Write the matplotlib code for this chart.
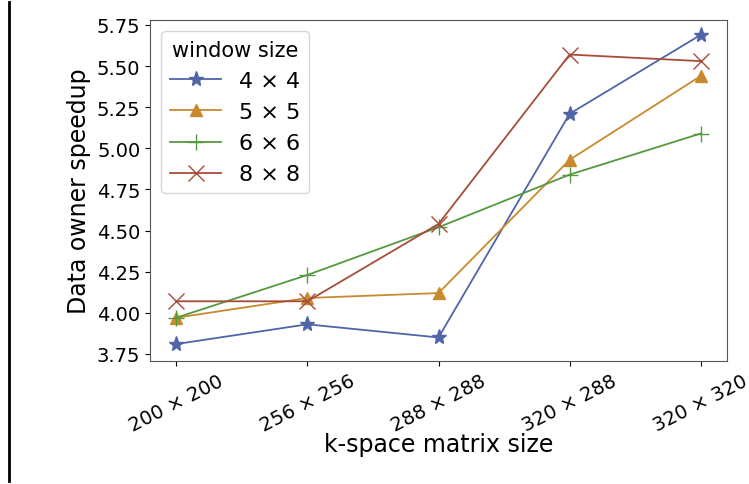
import matplotlib.pyplot as plt
from matplotlib.lines import Line2D

# k-space sizes on x axis
sizes = ["200 × 200", "256 × 256", "288 × 288", "320 × 288", "320 × 320"]

# speedup for each window size
w4 = [3.81, 3.93, 3.85, 5.21, 5.69]
w5 = [3.97, 4.09, 4.12, 4.93, 5.44]
w6 = [3.97, 4.23, 4.52, 4.84, 5.09]
w8 = [4.07, 4.07, 4.54, 5.57, 5.53]

labels = ["4 × 4", "5 × 5", "6 × 6", "8 × 8"]

fig = plt.figure(figsize=(7.49, 4.85), dpi=100)
ax = fig.add_axes([150/749, 1 - 362/485, 577/749, 341/485])

x = range(len(sizes))
ax.plot(x, w4, color='#5064a8', marker='*', markersize=11, lw=1.3, label=labels[0])
ax.plot(x, w5, color='#c98a2e', marker='^', markersize=9, lw=1.3, label=labels[1])
ax.plot(x, w6, color='#55993f', marker='+', markersize=11, lw=1.3, label=labels[2])
ax.plot(x, w8, color='#a84c3a', marker='x', markersize=11, lw=1.3, label=labels[3])

ax.set_xticks(list(x))
ax.set_xticklabels(sizes, rotation=27, fontsize=14)
ax.set_xlim(-0.2, 4.2)
ax.set_ylim(3.707, 5.78)
ax.set_yticks([3.75, 4.0, 4.25, 4.5, 4.75, 5.0, 5.25, 5.5, 5.75])
ax.tick_params(axis='y', labelsize=14)
for sp in ax.spines.values():
    sp.set_color('#555555')

ax.set_xlabel("k-space matrix size", fontsize=17, labelpad=-2)
ax.set_ylabel("Data owner speedup", fontsize=17)

leg = ax.legend(title="window size", fontsize=16, title_fontsize=15, loc='upper left',
                handlelength=2.3)

# screenshot border on the left
fig.add_artist(Line2D([9/749, 9/749], [3/485, 482/485], color='black', lw=2))

fig.savefig("out.png", dpi=100)
